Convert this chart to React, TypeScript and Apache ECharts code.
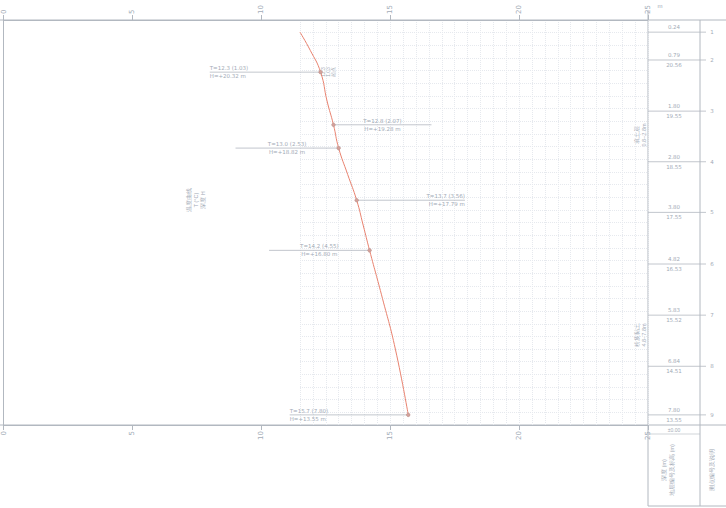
import React, { useEffect, useRef } from "react";
import * as echarts from "echarts";

// value axis (horizontal) and depth axis (vertical, downwards)
const valueMin = 0;
const valueMax = 25;
const valueStep = 5;
const depthMin = 0;
const depthMax = 8;

// measured profile
const curveDepth = [0.24, 0.6, 1.03, 1.6, 2.07, 2.53, 3.05, 3.56, 4.05, 4.55, 5.5, 6.5, 7.8];
const curveValue = [11.5, 11.9, 12.3, 12.55, 12.8, 13.0, 13.35, 13.7, 13.95, 14.2, 14.7, 15.2, 15.7];

// annotations on the profile
const annDepth = [1.03, 2.07, 2.53, 3.56, 4.55, 7.8];
const annValue = [12.3, 12.8, 13.0, 13.7, 14.2, 15.7];
const annEnd = [8.0, 16.6, 9.0, 17.9, 10.3, 11.1];
const annMode = ["far", "mid", "mid", "far", "mid", "far"];
const annTop = ["T=12.3 (1.03)", "T=12.8 (2.07)", "T=13.0 (2.53)", "T=13.7 (3.56)", "T=14.2 (4.55)", "T=15.7 (7.80)"];
const annBottom = ["H=+20.32 m", "H=+19.28 m", "H=+18.82 m", "H=+17.79 m", "H=+16.80 m", "H=+13.55 m"];

// layer boundaries in the right-hand table
const layerDepth = [0.24, 0.79, 1.8, 2.8, 3.8, 4.82, 5.83, 6.84, 7.8];
const layerTop = ["0.24", "0.79", "1.80", "2.80", "3.80", "4.82", "5.83", "6.84", "7.80"];
const layerBottom = ["", "20.56", "19.55", "18.55", "17.55", "16.53", "15.52", "14.51", "13.55"];
const layerNo = ["1", "2", "3", "4", "5", "6", "7", "8", "9"];

// background grid range
const gridFrom = 11.5;
const gridStep = 0.5;
const gridDepthStep = 0.25;

const C_TEXT = "#a2aab6";
const C_LINE = "#b2b8c0";
const C_CURVE = "#e8826f";

export default function App() {
  const ref = useRef<HTMLDivElement>(null);
  useEffect(() => {
    const chart = echarts.init(ref.current!, undefined, { renderer: "svg" });
    const axisLbl = { color: C_TEXT, fontSize: 7, rotate: 90, fontFamily: "DejaVu Sans" };
    const option: any = {
      animation: false,
      backgroundColor: "#ffffff",
      grid: [
        { left: 3, right: 78, top: 20, bottom: 83 },
        { left: 300, right: 78, top: 20, bottom: 83 },
      ],
      xAxis: [
        {
          gridIndex: 0, type: "value", position: "top", min: valueMin, max: valueMax, interval: valueStep,
          axisLine: { show: true, lineStyle: { color: C_LINE } },
          axisTick: { show: true, inside: false, length: 5, lineStyle: { color: C_LINE } },
          axisLabel: { ...axisLbl, margin: 6 },
          splitLine: { show: false },
        },
        {
          gridIndex: 0, type: "value", position: "bottom", min: valueMin, max: valueMax, interval: valueStep,
          axisLine: { show: true, lineStyle: { color: C_LINE } },
          axisTick: { show: true, length: 5, lineStyle: { color: C_LINE } },
          axisLabel: { ...axisLbl, margin: 6 },
          splitLine: { show: false },
        },
        {
          gridIndex: 1, type: "value", min: gridFrom, max: valueMax, interval: gridStep,
          axisLine: { show: false }, axisTick: { show: false }, axisLabel: { show: false },
          splitLine: { show: true, lineStyle: { color: "#e6e9ee", type: "dotted", width: 1 } },
        },
      ],
      yAxis: [
        {
          gridIndex: 0, type: "value", inverse: true, min: depthMin, max: depthMax,
          axisLine: { show: true, lineStyle: { color: C_LINE } },
          axisTick: { show: false }, axisLabel: { show: false }, splitLine: { show: false },
        },
        {
          gridIndex: 1, type: "value", inverse: true, min: depthMin, max: depthMax, interval: gridDepthStep,
          axisLine: { show: false }, axisTick: { show: false }, axisLabel: { show: false },
          splitLine: { show: true, lineStyle: { color: "#e6e9ee", type: "dotted", width: 1 } },
        },
      ],
      series: [
        {
          type: "line",
          xAxisIndex: 0, yAxisIndex: 0,
          data: curveDepth.map((d, i) => [curveValue[i], d]),
          smooth: true,
          showSymbol: false,
          lineStyle: { color: C_CURVE, width: 1 },
          z: 5,
        },
        {
          type: "custom",
          xAxisIndex: 0, yAxisIndex: 0,
          data: annDepth.map((d, i) => [annValue[i], d, annEnd[i], i]),
          renderItem: (params: any, api: any) => {
            const i = api.value(3);
            const p = api.coord([api.value(0), api.value(1)]);
            const e = api.coord([api.value(2), api.value(1)]);
            const left = e[0] < p[0];
            let tx: number, align: string;
            if (annMode[i] === "far") {
              tx = e[0];
              align = left ? "left" : "right";
            } else {
              tx = (p[0] + e[0]) / 2;
              align = "center";
            }
            const ts = { fill: C_TEXT, fontSize: 5.5, fontFamily: "DejaVu Sans", align };
            return {
              type: "group",
              children: [
                { type: "line", shape: { x1: p[0], y1: p[1], x2: e[0], y2: e[1] }, style: { stroke: C_LINE, lineWidth: 0.8 } },
                { type: "circle", shape: { cx: p[0], cy: p[1], r: 1.8 }, style: { fill: "#d4a19a", stroke: "#b08a86", lineWidth: 0.5 }, z2: 10 },
                { type: "text", x: tx, y: p[1] - 1, style: { ...ts, text: annTop[i], verticalAlign: "bottom" } },
                { type: "text", x: tx, y: p[1] + 1, style: { ...ts, text: annBottom[i], verticalAlign: "top" } },
              ],
            };
          },
          z: 6,
        },
        {
          type: "custom",
          xAxisIndex: 0, yAxisIndex: 0,
          clip: false,
          data: layerDepth.map((d, i) => [valueMax, d, i]),
          renderItem: (params: any, api: any) => {
            const i = api.value(2);
            const p = api.coord([api.value(0), api.value(1)]);
            const ts = { fill: C_TEXT, fontSize: 5.5, fontFamily: "DejaVu Sans", align: "center" };
            const children: any[] = [
              { type: "line", shape: { x1: p[0], y1: p[1], x2: p[0] + 58, y2: p[1] }, style: { stroke: C_LINE, lineWidth: 0.8 } },
              { type: "text", x: p[0] + 26, y: p[1] - 2, style: { ...ts, text: layerTop[i], verticalAlign: "bottom" } },
              { type: "text", x: p[0] + 64, y: p[1], style: { ...ts, text: layerNo[i], verticalAlign: "middle" } },
            ];
            if (layerBottom[i]) {
              children.push({ type: "text", x: p[0] + 26, y: p[1] + 2, style: { ...ts, text: layerBottom[i], verticalAlign: "top" } });
            }
            return { type: "group", children };
          },
          z: 6,
        },
      ],
      graphic: [
        // table frame
        { type: "line", shape: { x1: 0, y1: 20, x2: 726, y2: 20 }, style: { stroke: C_LINE, lineWidth: 1 } },
        { type: "line", shape: { x1: 0, y1: 425, x2: 726, y2: 425 }, style: { stroke: C_LINE, lineWidth: 1 } },
        { type: "line", shape: { x1: 648, y1: 10, x2: 648, y2: 506 }, style: { stroke: C_LINE, lineWidth: 1 } },
        { type: "line", shape: { x1: 700, y1: 20, x2: 700, y2: 506 }, style: { stroke: C_LINE, lineWidth: 1 } },
        { type: "line", shape: { x1: 648, y1: 506, x2: 726, y2: 506 }, style: { stroke: C_LINE, lineWidth: 1 } },
        { type: "line", shape: { x1: 648, y1: 434, x2: 700, y2: 434 }, style: { stroke: C_LINE, lineWidth: 0.6 } },
        { type: "text", x: 674, y: 430, style: { text: "±0.00", fill: C_TEXT, fontSize: 5, align: "center", verticalAlign: "middle" } },
        // rotated captions
        { type: "text", x: 668, y: 470, rotation: Math.PI / 2, style: { text: "深度 (m)\n地层编号及标高 (m)", fill: C_TEXT, fontSize: 5.5, align: "center", verticalAlign: "middle", lineHeight: 8 } },
        { type: "text", x: 712, y: 470, rotation: Math.PI / 2, style: { text: "测点编号及说明", fill: C_TEXT, fontSize: 5.5, align: "center", verticalAlign: "middle" } },
        { type: "text", x: 640, y: 135, rotation: Math.PI / 2, style: { text: "填土层\n0.8~2.8m", fill: C_TEXT, fontSize: 5.5, align: "center", verticalAlign: "middle", lineHeight: 7 } },
        { type: "text", x: 640, y: 335, rotation: Math.PI / 2, style: { text: "粉质黏土\n4.8~7.8m", fill: C_TEXT, fontSize: 5.5, align: "center", verticalAlign: "middle", lineHeight: 7 } },
        { type: "text", x: 196, y: 200, rotation: Math.PI / 2, style: { text: "温度曲线\nT (°C)\n深度 H", fill: C_TEXT, fontSize: 5.5, align: "center", verticalAlign: "middle", lineHeight: 7 } },
        { type: "text", x: 328, y: 72, rotation: Math.PI / 2, style: { text: "12.3\n1.03\n起点", fill: C_TEXT, fontSize: 5, align: "center", verticalAlign: "middle", lineHeight: 5 } },
        { type: "text", x: 660, y: 6, style: { text: "m", fill: C_TEXT, fontSize: 6, align: "center", verticalAlign: "middle" } },
      ],
    };
    chart.setOption(option);
    return () => chart.dispose();
  }, []);
  return (
    <div
      ref={ref}
      style={{ position: "fixed", left: 0, top: 0, width: 726, height: 508, background: "#fff" }}
    />
  );
}
